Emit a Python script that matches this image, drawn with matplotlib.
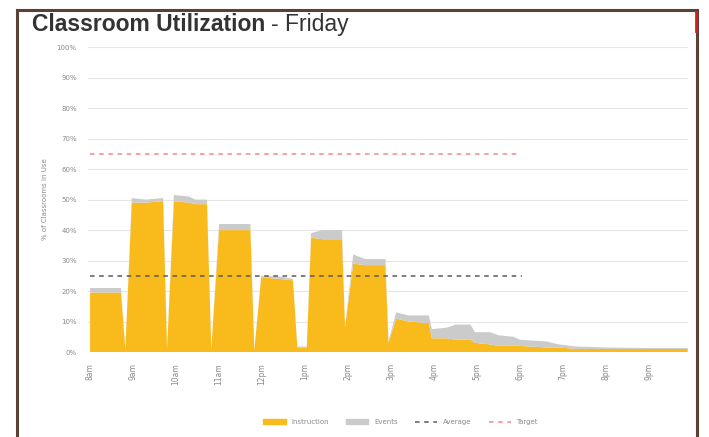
import numpy as np
import matplotlib.pyplot as plt
from matplotlib.patches import Patch
from matplotlib.lines import Line2D

plt.rcParams.update({
    "font.family": ["DejaVu Sans"],
})

# time of day in hours, utilization in percent
hours = [8.0, 8.72, 8.82, 8.97, 9.3, 9.7, 9.79, 9.95, 10.3, 10.45, 10.72, 10.82,
         11.0, 11.73, 11.82, 11.98, 12.4, 12.72, 12.82, 13.04, 13.14, 13.4, 13.86,
         13.93, 14.12, 14.4, 14.87, 14.94, 15.12, 15.4, 15.88, 15.95, 16.3, 16.5,
         16.85, 16.95, 17.3, 17.5, 17.85, 18.0, 18.6, 18.9, 19.3, 20.0, 21.0, 21.9]
instruction = [19.5, 19.5, 1.0, 49.0, 49.0, 49.5, 1.0, 49.5, 49.0, 48.5, 48.5, 1.0,
               40.0, 40.0, 0.5, 24.5, 24.0, 23.5, 1.5, 1.5, 37.5, 37.0, 37.0,
               8.0, 29.0, 28.5, 28.5, 3.0, 11.0, 10.0, 9.5, 4.5, 4.5, 4.0,
               4.0, 3.0, 2.5, 2.0, 2.0, 2.0, 1.5, 1.5, 1.0, 1.0, 1.0, 1.0]
events = [1.5, 1.5, 0.3, 1.5, 1.0, 1.0, 0.2, 2.0, 2.0, 1.5, 1.5, 0.2,
          2.0, 2.0, 0.2, 0.5, 0.8, 0.5, 0.3, 0.3, 1.5, 3.0, 3.0,
          0.5, 3.0, 2.0, 2.0, 0.5, 2.0, 2.0, 2.5, 3.0, 3.5, 5.0,
          5.0, 3.5, 4.0, 3.5, 3.0, 2.0, 2.0, 1.0, 0.8, 0.5, 0.3, 0.3]
average = 25
target = 65

tick_hours = list(range(8, 22))
tick_labels = ["8am", "9am", "10am", "11am", "12pm", "1pm", "2pm", "3pm",
               "4pm", "5pm", "6pm", "7pm", "8pm", "9pm"]

gold = "#F9BA1C"
grey = "#CBCBCB"
txt = "#8a8a8a"

fig = plt.figure(figsize=(7.09, 4.37), dpi=100)
ax = fig.add_axes([0.124, 0.1945, 0.846, 0.6975])

ax.stackplot(hours, instruction, events, colors=[gold, grey], linewidth=0)
ax.plot([8.0, 18.05], [average, average], ls=(0, (3, 3)), color="#5a5a5a", lw=1.1)
ax.plot([8.0, 18.0], [target, target], ls=(0, (3, 3)), color="#F08A8A", lw=1.1)

ax.set_xlim(7.95, 21.9)
ax.set_ylim(0, 100)
ax.set_yticks(range(0, 101, 10))
ax.set_yticklabels([f"{v}%" for v in range(0, 101, 10)], fontsize=5, color=txt)
ax.set_xticks(tick_hours)
ax.set_xticklabels(tick_labels, rotation=90, fontsize=5.5, color=txt)
ax.tick_params(length=0, pad=8)
ax.set_ylabel("% of Classrooms in Use", fontsize=5, color=txt, labelpad=6)
ax.grid(axis="y", color="#e6e6e6", lw=0.8)
ax.set_axisbelow(True)
for s in ax.spines.values():
    s.set_visible(False)

# title: bold part, then the day placed right after it
t1 = fig.text(0.045, 0.93, "Classroom Utilization", fontsize=16.5, fontweight="bold",
              family="Liberation Sans", color="#333333", va="baseline")
fig.canvas.draw()
bb = t1.get_window_extent(fig.canvas.get_renderer())
x_end = bb.x1 / fig.bbox.width
fig.text(x_end + 0.008, 0.93, "- Friday", fontsize=16.5, family="Liberation Sans",
         color="#333333", va="baseline")

handles = [Patch(color=gold), Patch(color=grey),
           Line2D([0], [0], ls=(0, (3, 3)), color="#5a5a5a", lw=1.1),
           Line2D([0], [0], ls=(0, (3, 3)), color="#F08A8A", lw=1.1)]
fig.legend(handles, ["Instruction", "Events", "Average", "Target"], loc="center",
           bbox_to_anchor=(0.565, 0.034), ncol=4, frameon=False, fontsize=5,
           labelcolor=txt, handlelength=3.2, columnspacing=2.5)

# brown frame around the chart
frame = "#5b4035"
fig.add_artist(Line2D([0.024, 0.983], [0.977, 0.977], color=frame, lw=2.2))
fig.add_artist(Line2D([0.024, 0.024], [0.0, 0.977], color=frame, lw=2.2))
fig.add_artist(Line2D([0.983, 0.983], [0.0, 0.977], color=frame, lw=2.2))
fig.add_artist(Line2D([0.981, 0.981], [0.93, 0.972], color="#d62020", lw=2))

fig.savefig("out.png", dpi=100)
